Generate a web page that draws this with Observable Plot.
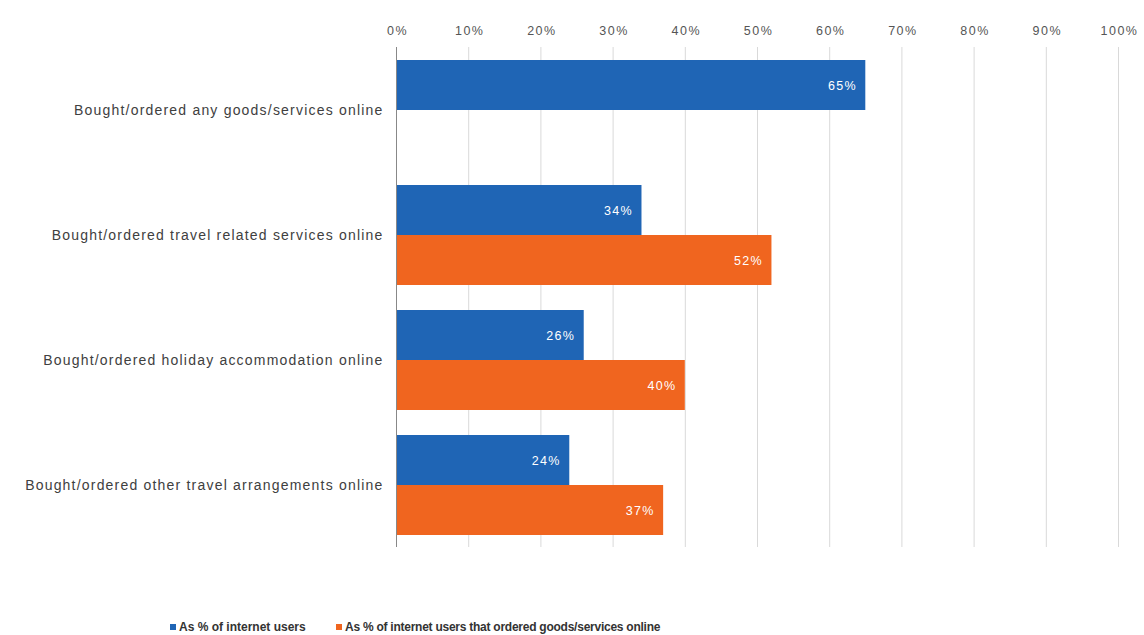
<!DOCTYPE html>
<html>
<head>
<meta charset="utf-8">
<script src="https://cdn.jsdelivr.net/npm/d3@7"></script>
<script src="https://cdn.jsdelivr.net/npm/@observablehq/plot@0.6"></script>
<style>
  body { margin: 0; background: #fff; font-family: "Liberation Sans", Arial, sans-serif; }
  #legend { position: relative; height: 35px; font-size: 12px; font-weight: bold; color: #333; }
  .item { position: absolute; top: 20px; display: flex; align-items: center; white-space: nowrap; }
  .sw { width: 6px; height: 6px; margin-right: 3px; display: inline-block; }
  .xax text { letter-spacing: 1.5px; }
  .yax text { letter-spacing: 1.2px; }
  .vals text { letter-spacing: 1.3px; }
</style>
</head>
<body>
<div id="chart"></div>
<div id="legend"></div>
<script>
const categories = [
  "Bought/ordered any goods/services online",
  "Bought/ordered travel related services online",
  "Bought/ordered holiday accommodation online",
  "Bought/ordered other travel arrangements online"
];
const seriesNames = ["As % of internet users", "As % of internet users that ordered goods/services online"];
const internetUsers = [65, 34, 26, 24];
const onlineBuyers = [null, 52, 40, 37];
const colors = ["#1f65b5", "#f0651f"];
const xTicks = [0, 10, 20, 30, 40, 50, 60, 70, 80, 90, 100];

const dataA = categories.map((c, i) => ({category: c, value: internetUsers[i]})).filter(d => d.value != null);
const dataB = categories.map((c, i) => ({category: c, value: onlineBuyers[i]})).filter(d => d.value != null);

const height = 600, marginTop = 47, marginBottom = 53;
const paddingInner = 0.2, paddingOuter = 0.1;
const step = (height - marginTop - marginBottom) / (categories.length - paddingInner + 2 * paddingOuter);
const bw = step * (1 - paddingInner);

const chart = Plot.plot({
  width: 1144,
  height,
  marginTop,
  marginBottom,
  marginLeft: 396,
  marginRight: 26,
  style: {fontFamily: "'Liberation Sans', Arial, sans-serif", background: "#fff"},
  x: {domain: [0, 100], axis: null},
  y: {domain: categories, paddingInner, paddingOuter, axis: null},
  marks: [
    Plot.ruleX(xTicks.filter(t => t > 0), {stroke: "#d9d9d9", strokeWidth: 1}),
    Plot.axisX(xTicks, {anchor: "top", tickSize: 0, tickPadding: 13, tickFormat: d => d + "%", fontSize: 12.5, fill: "#555", label: null, className: "xax", dx: 1}),
    Plot.axisY({anchor: "left", tickSize: 0, tickPadding: 13, fontSize: 14, fill: "#404040", label: null, className: "yax"}),
    Plot.barX(dataA, {x: "value", y: "category", fill: colors[0], insetBottom: bw / 2}),
    Plot.barX(dataB, {x: "value", y: "category", fill: colors[1], insetTop: bw / 2}),
    Plot.text(dataA, {x: "value", y: "category", text: d => d.value + "%", dy: -bw / 4, dx: -9, textAnchor: "end", fill: "#fff", fontSize: 12.5, className: "vals"}),
    Plot.text(dataB, {x: "value", y: "category", text: d => d.value + "%", dy: bw / 4, dx: -9, textAnchor: "end", fill: "#fff", fontSize: 12.5, className: "vals"}),
    Plot.ruleX([0], {stroke: "#888", strokeWidth: 1})
  ]
});
document.getElementById("chart").appendChild(chart);

const legend = document.getElementById("legend");
const lefts = [170, 336];
const spacing = ["0px", "-0.25px"];
seriesNames.forEach((name, i) => {
  const item = document.createElement("div");
  item.className = "item";
  item.style.left = lefts[i] + "px";
  item.style.letterSpacing = spacing[i];
  const sw = document.createElement("span");
  sw.className = "sw";
  sw.style.background = colors[i];
  item.appendChild(sw);
  item.appendChild(document.createTextNode(name));
  legend.appendChild(item);
});
</script>
</body>
</html>
